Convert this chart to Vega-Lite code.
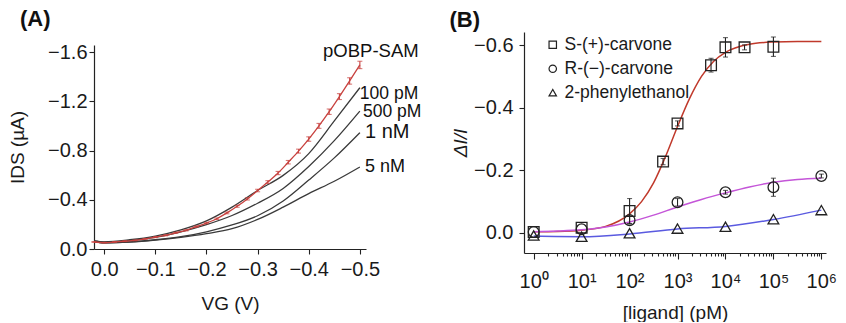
{
  "$schema": "https://vega.github.io/schema/vega-lite/v6.json",
  "background": "white",
  "padding": {"left": 8, "top": 8, "right": 0, "bottom": 0},
  "spacing": 27,
  "config": {
    "font": "Liberation Sans",
    "view": {"stroke": null},
    "axis": {
      "grid": false,
      "labelFont": "Liberation Sans",
      "titleFont": "Liberation Sans",
      "labelFontSize": 20,
      "titleFontSize": 19,
      "titleFontWeight": "normal",
      "labelColor": "#1a1a1a",
      "titleColor": "#1a1a1a",
      "domainColor": "#222222",
      "tickColor": "#222222",
      "domainWidth": 1.2,
      "tickWidth": 1.1,
      "tickSize": 5,
      "labelOverlap": false,
      "labelBound": false,
      "labelFlush": false
    },
    "title": {"font": "Liberation Sans", "fontSize": 22, "fontWeight": "bold", "anchor": "start", "color": "#111111"},
    "legend": {"labelFont": "Liberation Sans"}
  },
  "datasets": {
    "curvesA": [
      {"conc": "100 pM", "v": 0.02, "i": -0.065}, {"conc": "100 pM", "v": 0.0, "i": -0.058}, {"conc": "100 pM", "v": -0.05, "i": -0.075}, {"conc": "100 pM", "v": -0.1, "i": -0.105}, {"conc": "100 pM", "v": -0.15, "i": -0.155}, {"conc": "100 pM", "v": -0.2, "i": -0.228}, {"conc": "100 pM", "v": -0.25, "i": -0.34}, {"conc": "100 pM", "v": -0.3, "i": -0.475}, {"conc": "100 pM", "v": -0.35, "i": -0.598}, {"conc": "100 pM", "v": -0.4, "i": -0.775}, {"conc": "100 pM", "v": -0.45, "i": -1.04}, {"conc": "100 pM", "v": -0.5, "i": -1.31},
      {"conc": "500 pM", "v": 0.02, "i": -0.065}, {"conc": "500 pM", "v": 0.0, "i": -0.055}, {"conc": "500 pM", "v": -0.05, "i": -0.068}, {"conc": "500 pM", "v": -0.1, "i": -0.095}, {"conc": "500 pM", "v": -0.15, "i": -0.14}, {"conc": "500 pM", "v": -0.2, "i": -0.198}, {"conc": "500 pM", "v": -0.25, "i": -0.272}, {"conc": "500 pM", "v": -0.3, "i": -0.372}, {"conc": "500 pM", "v": -0.35, "i": -0.492}, {"conc": "500 pM", "v": -0.4, "i": -0.67}, {"conc": "500 pM", "v": -0.45, "i": -0.88}, {"conc": "500 pM", "v": -0.5, "i": -1.12},
      {"conc": "1 nM", "v": 0.02, "i": -0.06}, {"conc": "1 nM", "v": 0.0, "i": -0.05}, {"conc": "1 nM", "v": -0.05, "i": -0.058}, {"conc": "1 nM", "v": -0.1, "i": -0.075}, {"conc": "1 nM", "v": -0.15, "i": -0.1}, {"conc": "1 nM", "v": -0.2, "i": -0.14}, {"conc": "1 nM", "v": -0.25, "i": -0.195}, {"conc": "1 nM", "v": -0.3, "i": -0.27}, {"conc": "1 nM", "v": -0.35, "i": -0.39}, {"conc": "1 nM", "v": -0.4, "i": -0.56}, {"conc": "1 nM", "v": -0.45, "i": -0.74}, {"conc": "1 nM", "v": -0.5, "i": -0.945},
      {"conc": "5 nM", "v": 0.02, "i": -0.06}, {"conc": "5 nM", "v": 0.0, "i": -0.05}, {"conc": "5 nM", "v": -0.05, "i": -0.056}, {"conc": "5 nM", "v": -0.1, "i": -0.072}, {"conc": "5 nM", "v": -0.15, "i": -0.095}, {"conc": "5 nM", "v": -0.2, "i": -0.125}, {"conc": "5 nM", "v": -0.25, "i": -0.165}, {"conc": "5 nM", "v": -0.3, "i": -0.24}, {"conc": "5 nM", "v": -0.35, "i": -0.34}, {"conc": "5 nM", "v": -0.4, "i": -0.45}, {"conc": "5 nM", "v": -0.45, "i": -0.55}, {"conc": "5 nM", "v": -0.5, "i": -0.666}
    ],
    "pobp": [
      {"v": 0.02, "i": -0.057, "err": 0.003}, {"v": 0.0, "i": -0.051, "err": 0.003}, {"v": -0.02, "i": -0.057, "err": 0.003}, {"v": -0.04, "i": -0.063, "err": 0.003}, {"v": -0.06, "i": -0.07, "err": 0.003}, {"v": -0.08, "i": -0.082, "err": 0.003}, {"v": -0.1, "i": -0.096, "err": 0.004}, {"v": -0.12, "i": -0.111, "err": 0.004}, {"v": -0.14, "i": -0.132, "err": 0.004}, {"v": -0.16, "i": -0.152, "err": 0.005}, {"v": -0.18, "i": -0.182, "err": 0.005}, {"v": -0.2, "i": -0.211, "err": 0.006}, {"v": -0.22, "i": -0.246, "err": 0.006}, {"v": -0.24, "i": -0.293, "err": 0.007}, {"v": -0.26, "i": -0.347, "err": 0.008}, {"v": -0.28, "i": -0.407, "err": 0.009}, {"v": -0.3, "i": -0.475, "err": 0.01}, {"v": -0.32, "i": -0.544, "err": 0.011}, {"v": -0.34, "i": -0.617, "err": 0.013}, {"v": -0.36, "i": -0.705, "err": 0.014}, {"v": -0.38, "i": -0.795, "err": 0.016}, {"v": -0.4, "i": -0.893, "err": 0.018}, {"v": -0.42, "i": -1.0, "err": 0.02}, {"v": -0.44, "i": -1.115, "err": 0.022}, {"v": -0.46, "i": -1.238, "err": 0.024}, {"v": -0.48, "i": -1.365, "err": 0.026}, {"v": -0.5, "i": -1.495, "err": 0.03}
    ],
    "labelsA": [
      {"label": "pOBP-SAM", "v": -0.428, "i": -1.608},
      {"label": "100 pM", "v": -0.5, "i": -1.262},
      {"label": "500 pM", "v": -0.506, "i": -1.113},
      {"label": "1 nM", "v": -0.51, "i": -0.95},
      {"label": "5 nM", "v": -0.51, "i": -0.666}
    ],
    "pointsB": [
      {"compound": "S-(+)-carvone", "c": 1, "r": -0.003, "err": 0}, {"compound": "S-(+)-carvone", "c": 10, "r": -0.017, "err": 0}, {"compound": "S-(+)-carvone", "c": 100, "r": -0.07, "err": 0.04}, {"compound": "S-(+)-carvone", "c": 500, "r": -0.228, "err": 0.01}, {"compound": "S-(+)-carvone", "c": 1000, "r": -0.35, "err": 0.008}, {"compound": "S-(+)-carvone", "c": 5000, "r": -0.536, "err": 0.022}, {"compound": "S-(+)-carvone", "c": 10000, "r": -0.593, "err": 0.031}, {"compound": "S-(+)-carvone", "c": 25000, "r": -0.593, "err": 0.008}, {"compound": "S-(+)-carvone", "c": 100000, "r": -0.595, "err": 0.031},
      {"compound": "R-(−)-carvone", "c": 1, "r": -0.003, "err": 0}, {"compound": "R-(−)-carvone", "c": 10, "r": -0.012, "err": 0}, {"compound": "R-(−)-carvone", "c": 100, "r": -0.041, "err": 0.012}, {"compound": "R-(−)-carvone", "c": 1000, "r": -0.098, "err": 0.012}, {"compound": "R-(−)-carvone", "c": 10000, "r": -0.13, "err": 0.006}, {"compound": "R-(−)-carvone", "c": 100000, "r": -0.146, "err": 0.029}, {"compound": "R-(−)-carvone", "c": 1000000, "r": -0.182, "err": 0.006},
      {"compound": "2-phenylethanol", "c": 1, "r": 0.008, "err": 0}, {"compound": "2-phenylethanol", "c": 10, "r": 0.012, "err": 0}, {"compound": "2-phenylethanol", "c": 100, "r": 0.001, "err": 0}, {"compound": "2-phenylethanol", "c": 1000, "r": -0.014, "err": 0}, {"compound": "2-phenylethanol", "c": 10000, "r": -0.02, "err": 0}, {"compound": "2-phenylethanol", "c": 100000, "r": -0.044, "err": 0}, {"compound": "2-phenylethanol", "c": 1000000, "r": -0.073, "err": 0}
    ],
    "fitsB": [
      {"series": "S fit", "c": 1, "r": -0.004}, {"series": "S fit", "c": 3.162, "r": -0.005}, {"series": "S fit", "c": 10, "r": -0.009}, {"series": "S fit", "c": 31.62, "r": -0.021}, {"series": "S fit", "c": 100, "r": -0.061}, {"series": "S fit", "c": 177.8, "r": -0.1}, {"series": "S fit", "c": 316.2, "r": -0.16}, {"series": "S fit", "c": 562.3, "r": -0.244}, {"series": "S fit", "c": 1000, "r": -0.34}, {"series": "S fit", "c": 1778, "r": -0.429}, {"series": "S fit", "c": 3162, "r": -0.5}, {"series": "S fit", "c": 5623, "r": -0.548}, {"series": "S fit", "c": 10000, "r": -0.577}, {"series": "S fit", "c": 31623, "r": -0.603}, {"series": "S fit", "c": 100000, "r": -0.61}, {"series": "S fit", "c": 316228, "r": -0.612}, {"series": "S fit", "c": 1000000, "r": -0.612},
      {"series": "R fit", "c": 1, "r": -0.004}, {"series": "R fit", "c": 3.162, "r": -0.006}, {"series": "R fit", "c": 10, "r": -0.01}, {"series": "R fit", "c": 31.62, "r": -0.019}, {"series": "R fit", "c": 100, "r": -0.035}, {"series": "R fit", "c": 316.2, "r": -0.057}, {"series": "R fit", "c": 1000, "r": -0.083}, {"series": "R fit", "c": 3162, "r": -0.107}, {"series": "R fit", "c": 10000, "r": -0.128}, {"series": "R fit", "c": 31623, "r": -0.147}, {"series": "R fit", "c": 100000, "r": -0.162}, {"series": "R fit", "c": 316228, "r": -0.171}, {"series": "R fit", "c": 1000000, "r": -0.175},
      {"series": "P fit", "c": 1, "r": 0.01}, {"series": "P fit", "c": 10, "r": 0.012}, {"series": "P fit", "c": 100, "r": 0.003}, {"series": "P fit", "c": 1000, "r": -0.013}, {"series": "P fit", "c": 10000, "r": -0.021}, {"series": "P fit", "c": 100000, "r": -0.043}, {"series": "P fit", "c": 1000000, "r": -0.073}
    ]
  },
  "hconcat": [
    {
      "spacing": 0,
      "vconcat": [
        {
          "width": 272,
          "height": 10,
          "title": {"text": "(A)", "offset": 0, "dx": -74},
          "data": {"values": [{"t": ""}]},
          "mark": {"type": "text"},
          "encoding": {"text": {"field": "t"}}
        },
        {
          "width": 272,
          "height": 204,
          "layer": [
            {
              "data": {"name": "curvesA"},
              "mark": {"type": "line", "color": "#3a3a3a", "strokeWidth": 1.3, "interpolate": "monotone"},
              "encoding": {
                "x": {"field": "v", "type": "quantitative", "title": "VG (V)", "scale": {"domain": [-0.512, 0.02], "reverse": true, "nice": false, "zero": false},
                  "axis": {"values": [0, -0.05, -0.1, -0.15, -0.2, -0.25, -0.3, -0.35, -0.4, -0.45, -0.5], "labelExpr": "abs(round(datum.value*20)) % 2 == 0 ? format(datum.value, '.1f') : ''", "labelPadding": 5, "titlePadding": 15}},
                "y": {"field": "i", "type": "quantitative", "title": "IDS (µA)", "scale": {"domain": [-1.657, 0], "reverse": true, "nice": false, "zero": false},
                  "axis": {"values": [0, -0.2, -0.4, -0.6, -0.8, -1.0, -1.2, -1.4, -1.6], "labelExpr": "abs(round(datum.value*5)) % 2 == 0 ? format(datum.value, '.1f') : ''", "labelPadding": 2, "titlePadding": 20}},
                "detail": {"field": "conc"}
              }
            },
            {
              "data": {"name": "pobp"},
              "mark": {"type": "line", "color": "#c8423f", "strokeWidth": 1.3, "interpolate": "monotone"},
              "encoding": {
                "x": {"field": "v", "type": "quantitative", "title": "VG (V)"},
                "y": {"field": "i", "type": "quantitative", "title": "IDS (µA)"}
              }
            },
            {
              "data": {"name": "pobp"},
              "mark": {"type": "errorbar", "color": "#c8423f", "ticks": true, "thickness": 1.1},
              "encoding": {
                "x": {"field": "v", "type": "quantitative", "title": "VG (V)"},
                "y": {"field": "i", "type": "quantitative", "title": "IDS (µA)"},
                "yError": {"field": "err"}
              }
            },
            {
              "data": {"name": "labelsA"},
              "mark": {"type": "text", "align": "left", "baseline": "middle", "color": "#111111", "font": "Liberation Sans"},
              "encoding": {
                "x": {"field": "v", "type": "quantitative", "title": "VG (V)"},
                "y": {"field": "i", "type": "quantitative", "title": "IDS (µA)"},
                "text": {"field": "label"},
                "size": {"condition": [{"test": "datum.label === '1 nM'", "value": 20}, {"test": "datum.label === 'pOBP-SAM'", "value": 18.5}, {"test": "datum.label === '5 nM'", "value": 18}], "value": 17.5}
              }
            }
          ]
        }
      ]
    },
    {
      "width": 302,
      "height": 221,
      "title": {"text": "(B)", "offset": 0, "dx": -2},
      "layer": [
        {
          "data": {"name": "fitsB"},
          "mark": {"type": "line", "strokeWidth": 1.5, "interpolate": "monotone"},
          "encoding": {
            "x": {"field": "c", "type": "quantitative", "title": "[ligand] (pM)", "scale": {"type": "log", "domain": [0.628, 1250000], "nice": false},
              "axis": {"values": [1,2,3,4,5,6,7,8,9,10,20,30,40,50,60,70,80,90,100,200,300,400,500,600,700,800,900,1000,2000,3000,4000,5000,6000,7000,8000,9000,10000,20000,30000,40000,50000,60000,70000,80000,90000,100000,200000,300000,400000,500000,600000,700000,800000,900000,1000000],
                "labelExpr": "indexof([1,10,100,1000,10000,100000,1000000], datum.value) >= 0 ? '10' + ['⁰','¹','²','³','⁴','⁵','⁶'][round(log(datum.value)/LN10)] : ''",
                "tickSize": {"condition": {"test": "indexof([1,10,100,1000,10000,100000,1000000], datum.value) >= 0", "value": 6}, "value": 3},
                "labelPadding": 12, "titlePadding": 12}},
            "y": {"field": "r", "type": "quantitative", "title": "ΔI/I", "scale": {"domain": [-0.642, 0.064], "reverse": true, "nice": false, "zero": false},
              "axis": {"titleFontStyle": "italic", "values": [0, -0.1, -0.2, -0.3, -0.4, -0.5, -0.6], "labelExpr": "abs(round(datum.value*10)) % 2 == 0 ? format(datum.value, '.1f') : ''", "labelPadding": 6, "titlePadding": 3}},
            "color": {"field": "series", "type": "nominal", "scale": {"domain": ["S fit", "R fit", "P fit"], "range": ["#c0392b", "#c455d8", "#5a5ae0"]}, "legend": null}
          }
        },
        {
          "data": {"name": "pointsB"},
          "transform": [{"filter": "datum.err > 0"}],
          "mark": {"type": "errorbar", "color": "#222222", "ticks": true, "thickness": 1.1},
          "encoding": {
            "x": {"field": "c", "type": "quantitative", "title": "[ligand] (pM)"},
            "y": {"field": "r", "type": "quantitative", "title": "ΔI/I"},
            "yError": {"field": "err"}
          }
        },
        {
          "data": {"name": "pointsB"},
          "mark": {"type": "point", "filled": false, "color": "#222222", "strokeWidth": 1.3, "size": 115, "opacity": 1},
          "encoding": {
            "x": {"field": "c", "type": "quantitative", "title": "[ligand] (pM)"},
            "y": {"field": "r", "type": "quantitative", "title": "ΔI/I"},
            "shape": {"field": "compound", "type": "nominal", "scale": {"domain": ["S-(+)-carvone", "R-(−)-carvone", "2-phenylethanol"], "range": ["square", "circle", "triangle-up"]},
              "legend": {"title": null, "orient": "none", "legendX": 450, "legendY": 4, "labelFontSize": 17.5, "symbolSize": 55, "symbolStrokeWidth": 1.2, "symbolStrokeColor": "#222222", "symbolFillColor": "transparent", "rowPadding": 5, "labelOffset": 3, "padding": 0, "labelColor": "#1a1a1a"}}
          }
        }
      ]
    }
  ]
}
